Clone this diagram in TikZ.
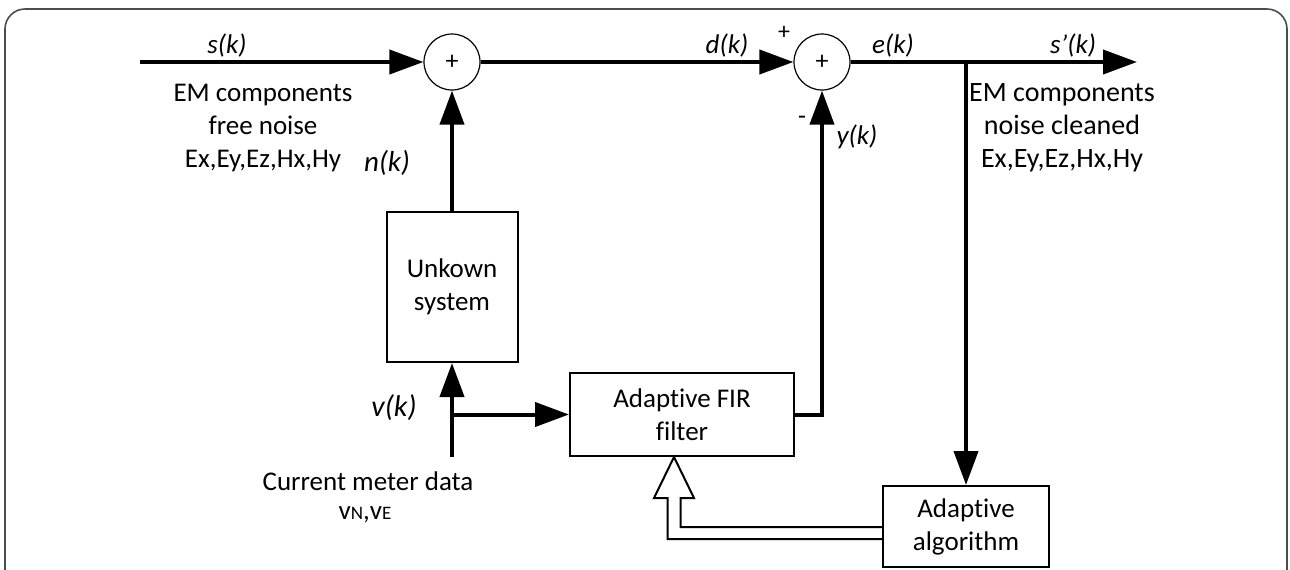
\documentclass[tikz,border=0pt]{standalone}
\usepackage{fontspec}
\setmainfont[Ligatures=NoCommon]{Carlito}
\usetikzlibrary{arrows.meta,positioning,calc}
\newcommand{\txtsize}{\fontsize{13.5}{16.5}\selectfont}
\newcommand{\smallcap}[1]{{\fontsize{9.5}{11}\selectfont #1}}

\begin{document}
\begin{tikzpicture}[x=0.5pt,y=-0.5pt,
  sum/.style={circle,draw,line width=0.6pt,minimum size=28pt,inner sep=0pt,font=\fontsize{13}{14}\selectfont},
  block/.style={rectangle,draw,line width=1pt,align=center,inner sep=0pt,font=\txtsize},
  flow/.style={line width=2pt,-{Triangle[length=17pt,width=12pt]}},
  wire/.style={line width=2pt},
  tag/.style={font=\txtsize\itshape,inner sep=0pt},
  note/.style={align=center,font=\txtsize,inner sep=0pt},
  hollow/.style={line width=1pt,line join=miter}
]
\useasboundingbox (0,0) rectangle (1290,569);
\draw[gray!60!black,line width=0.8pt,rounded corners=10] (5,580) -- (5,9) -- (1287,9) -- (1287,580);

\node[sum] (S1) at (452,62) {+};
\node[sum] (S2) at (822,62) {+};
\node[block,minimum width=65.5pt,minimum height=75pt] (U) at (452,287) {Unkown\\system};
\node[block,minimum width=112pt,minimum height=41.5pt] (F) at (682,414.5) {Adaptive FIR\\filter};
\node[block,minimum width=83pt,minimum height=40.5pt] (A) at (966,526.5) {Adaptive\\algorithm};

\coordinate (sin) at (140,62);
\coordinate (sout) at (1137,62);
\coordinate (J) at (A.north |- S2);
\coordinate (vin) at (452,457);
\coordinate (vbr) at (U |- F);
\coordinate (tip) at ($(F.south)+(-8,0)$);
\coordinate (hi) at ($(tip)+(0,70)$);
\coordinate (ho) at ($(tip)+(0,82)$);

\draw[flow] (sin) -- (S1);
\draw[flow] (S1) -- (S2);
\draw[flow] (U) -- (S1);
\draw[flow] (vin) -- (U);
\draw[flow] (vbr) -- (F);
\draw[flow] (F.east) -| (S2);
\draw[flow] (S2) -- (sout);
\draw[flow] (J) -- (A);
\draw[hollow] (A.west |- ho) -- ($(tip)+(-6.5,82)$) -- ($(tip)+(-6.5,41)$) -- ($(tip)+(-20,41)$)
  -- (tip) -- ($(tip)+(20,41)$) -- ($(tip)+(6.5,41)$) -- ($(tip)+(6.5,70)$) -- (A.west |- hi);

\node[tag] (sk) at (227,45) {s(k)};
\node[tag] (dk) at (727,45) {d(k)};
\node[tag] (ek) at (893,45) {e(k)};
\node[tag] (sk2) at (1073,45) {s'(k)};
\node[tag,font=\fontsize{14.5}{16}\selectfont\itshape] (nk) at (387,163) {n(k)};
\node[tag] (yk) at (857,137) {y(k)};
\node[tag,font=\fontsize{15}{17}\selectfont\itshape] (vk) at (394,408) {v(k)};
\node[note,font=\fontsize{12}{13}\selectfont] (plus) at (784,33) {+};
\node[note,font=\fontsize{13}{14}\selectfont] (minus) at (802,120) {-};
\node[note] (emin) at (263,128) {EM components\\free noise\\Ex,Ey,Ez,Hx,Hy};
\node[note,font=\fontsize{14}{16.5}\selectfont] (emout) at (1062,128) {EM components\\noise cleaned\\Ex,Ey,Ez,Hx,Hy};
\node[note] (cur) at (368,481) {Current meter data};
\node[note,font=\fontsize{13.5}{15}\selectfont] (vne) at (365,515) {v\smallcap{N},v\smallcap{E}};
\end{tikzpicture}
\end{document}
